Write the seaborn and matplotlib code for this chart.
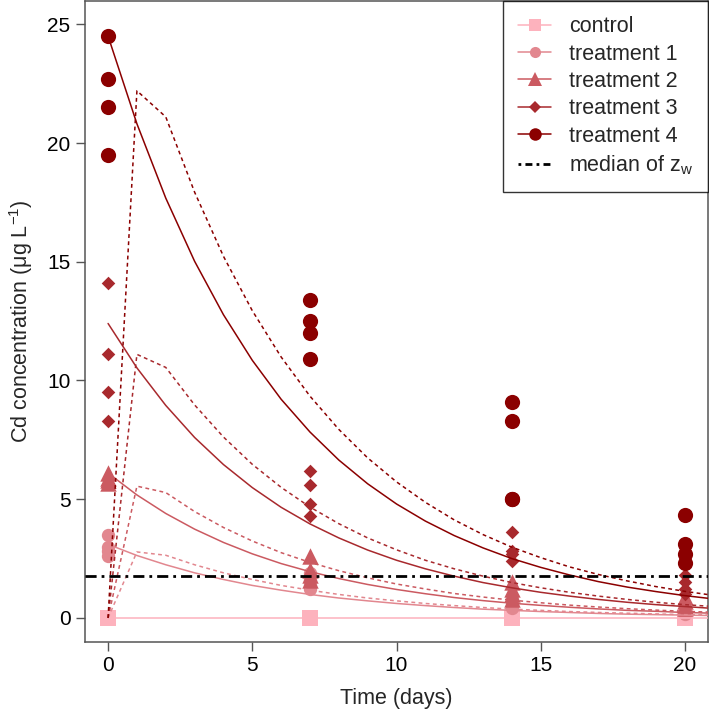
import numpy as np
import pandas as pd
import matplotlib
matplotlib.use("Agg")
import matplotlib.pyplot as plt
from matplotlib.lines import Line2D
import seaborn as sns

# ---------------- data ----------------
groups = ["control", "treatment 1", "treatment 2", "treatment 3", "treatment 4"]
sample_days = [0, 7, 14, 20]

# observed concentrations (4 replicates per sampling day)
obs_control = [[0, 0, 0, 0], [0, 0, 0, 0], [0, 0, 0, 0], [0, 0, 0, 0]]
obs_t1 = [[3.5, 3.0, 2.8, 2.6], [1.9, 1.6, 1.4, 1.2], [0.8, 0.6, 0.5, 0.4], [0.35, 0.25, 0.2, 0.15]]
obs_t2 = [[6.1, 5.9, 5.8, 5.7], [2.6, 2.0, 1.8, 1.6], [1.5, 1.2, 1.0, 0.8], [0.9, 0.7, 0.5, 0.4]]
obs_t3 = [[14.1, 11.1, 9.5, 8.3], [6.2, 5.6, 4.8, 4.3], [3.6, 2.8, 2.7, 2.4], [1.8, 1.5, 1.2, 1.0]]
obs_t4 = [[24.5, 22.7, 21.5, 19.5], [13.4, 12.5, 12.0, 10.9], [9.1, 8.3, 5.0, 5.0], [4.35, 3.1, 2.7, 2.3]]

# model curves evaluated at whole days 0..21
model_days = list(range(22))
fit_control = [0.0] * 22
fit_t1 = [3.1, 2.63, 2.24, 1.90, 1.62, 1.37, 1.17, 0.99, 0.84, 0.72, 0.61, 0.52, 0.44, 0.37, 0.32,
          0.27, 0.23, 0.19, 0.16, 0.14, 0.12, 0.10]
fit_t2 = [6.1, 5.18, 4.40, 3.74, 3.18, 2.70, 2.29, 1.95, 1.66, 1.41, 1.20, 1.02, 0.86, 0.73, 0.62,
          0.53, 0.45, 0.38, 0.32, 0.28, 0.23, 0.20]
fit_t3 = [12.4, 10.53, 8.95, 7.60, 6.46, 5.49, 4.66, 3.96, 3.37, 2.86, 2.43, 2.07, 1.76, 1.49, 1.27,
          1.08, 0.92, 0.78, 0.66, 0.56, 0.48, 0.40]
fit_t4 = [24.5, 20.81, 17.68, 15.02, 12.77, 10.85, 9.21, 7.83, 6.65, 5.65, 4.80, 4.08, 3.47, 2.95,
          2.50, 2.13, 1.81, 1.53, 1.30, 1.11, 0.94, 0.80]

pulse_t1 = [0, 2.78, 2.64, 2.24, 1.90, 1.62, 1.37, 1.17, 0.99, 0.84, 0.72, 0.61, 0.52, 0.44, 0.37,
            0.32, 0.27, 0.23, 0.20, 0.17, 0.14, 0.12]
pulse_t2 = [0, 5.55, 5.28, 4.48, 3.81, 3.24, 2.75, 2.34, 1.99, 1.69, 1.43, 1.22, 1.03, 0.88, 0.75,
            0.64, 0.54, 0.46, 0.39, 0.33, 0.28, 0.24]
pulse_t3 = [0, 11.1, 10.55, 8.97, 7.62, 6.47, 5.50, 4.67, 3.97, 3.37, 2.87, 2.43, 2.07, 1.76, 1.49,
            1.27, 1.08, 0.92, 0.78, 0.66, 0.56, 0.48]
pulse_t4 = [0, 22.2, 21.1, 17.93, 15.23, 12.94, 10.99, 9.34, 7.94, 6.74, 5.73, 4.87, 4.13, 3.51,
            2.98, 2.54, 2.15, 1.83, 1.56, 1.32, 1.12, 0.95]

median_zw = 1.76

# ---------------- styling ----------------
colors = ["#FDB2BD", "#E2878F", "#CB5A61", "#A8292D", "#8B0000"]
markers = ["s", "o", "^", "D", "o"]
scatter_sizes = [125, 92, 140, 48, 120]
legend_ms = [8, 8, 10, 6.5, 9]

sns.set_style("ticks")
plt.rcParams["font.family"] = ["Liberation Sans", "DejaVu Sans"]
plt.rcParams["mathtext.fontset"] = "custom"
plt.rcParams["mathtext.rm"] = "Liberation Sans"
plt.rcParams["mathtext.it"] = "Liberation Sans:italic"

fig = plt.figure(figsize=(7.09, 7.14), dpi=100)
ax = fig.add_axes([85 / 709, 1 - 641.7 / 714, (708 - 85) / 709, (641.7 - 1) / 714])

obs_all = [obs_control, obs_t1, obs_t2, obs_t3, obs_t4]
fits = [fit_control, fit_t1, fit_t2, fit_t3, fit_t4]
pulses = [None, pulse_t1, pulse_t2, pulse_t3, pulse_t4]

# observed points
for g, obs, c, m, s in zip(groups, obs_all, colors, markers, scatter_sizes):
    rows = []
    for d, vals in zip(sample_days, obs):
        for v in vals:
            rows.append({"day": d, "conc": v})
    df = pd.DataFrame(rows)
    sns.scatterplot(data=df, x="day", y="conc", ax=ax, color=c, marker=m, s=s,
                    linewidth=0, legend=False, zorder=2)

# model lines
for g, f, p, c in zip(groups, fits, pulses, colors):
    dff = pd.DataFrame({"day": model_days, "conc": f})
    sns.lineplot(data=dff, x="day", y="conc", ax=ax, color=c, linewidth=1.1,
                 estimator=None, legend=False, zorder=3)
    if p is not None:
        dfp = pd.DataFrame({"day": model_days, "conc": p})
        sns.lineplot(data=dfp, x="day", y="conc", ax=ax, color=c, linewidth=1.1,
                     estimator=None, legend=False, zorder=3)
        ax.lines[-1].set_dashes((2.5, 2.2))

ax.axhline(median_zw, color="black", linewidth=2.0, dashes=(4, 1.8, 1, 1.8), zorder=4)

ax.set_xlim(-0.8, 20.8)
ax.set_ylim(-1.0, 25.98)
ax.set_xticks([0, 5, 10, 15, 20])
ax.set_yticks([0, 5, 10, 15, 20, 25])
ax.set_xlabel("Time (days)", fontsize=15.5, labelpad=9)
ax.set_ylabel("Cd concentration (μg L$^{\\mathregular{-1}}$)", fontsize=15.5, labelpad=9)

for sp in ax.spines.values():
    sp.set_visible(True)
    sp.set_color("#555555")
    sp.set_linewidth(1.1)
ax.tick_params(axis="both", direction="out", length=6.5, width=1.0, color="#555555",
               labelsize=15, pad=4, labelcolor="black")

handles = []
for g, c, m, ms in zip(groups, colors, markers, legend_ms):
    handles.append(Line2D([0], [0], color=c, marker=m, markersize=ms, linewidth=1.1,
                          markeredgewidth=0))
handles.append(Line2D([0], [0], color="black", linewidth=2.0, dashes=(1, 1.5, 2.5, 1.5)))
labels = groups + ["median of z$_{\\mathregular{w}}$"]
leg = ax.legend(handles, labels, loc="upper right", fontsize=15.5, frameon=True, fancybox=False,
                borderaxespad=0, handlelength=1.55, handletextpad=0.8, labelspacing=0.3,
                borderpad=0.7)
leg.get_frame().set_edgecolor("black")
leg.get_frame().set_linewidth(1.0)

fig.savefig("out.png", dpi=100)
